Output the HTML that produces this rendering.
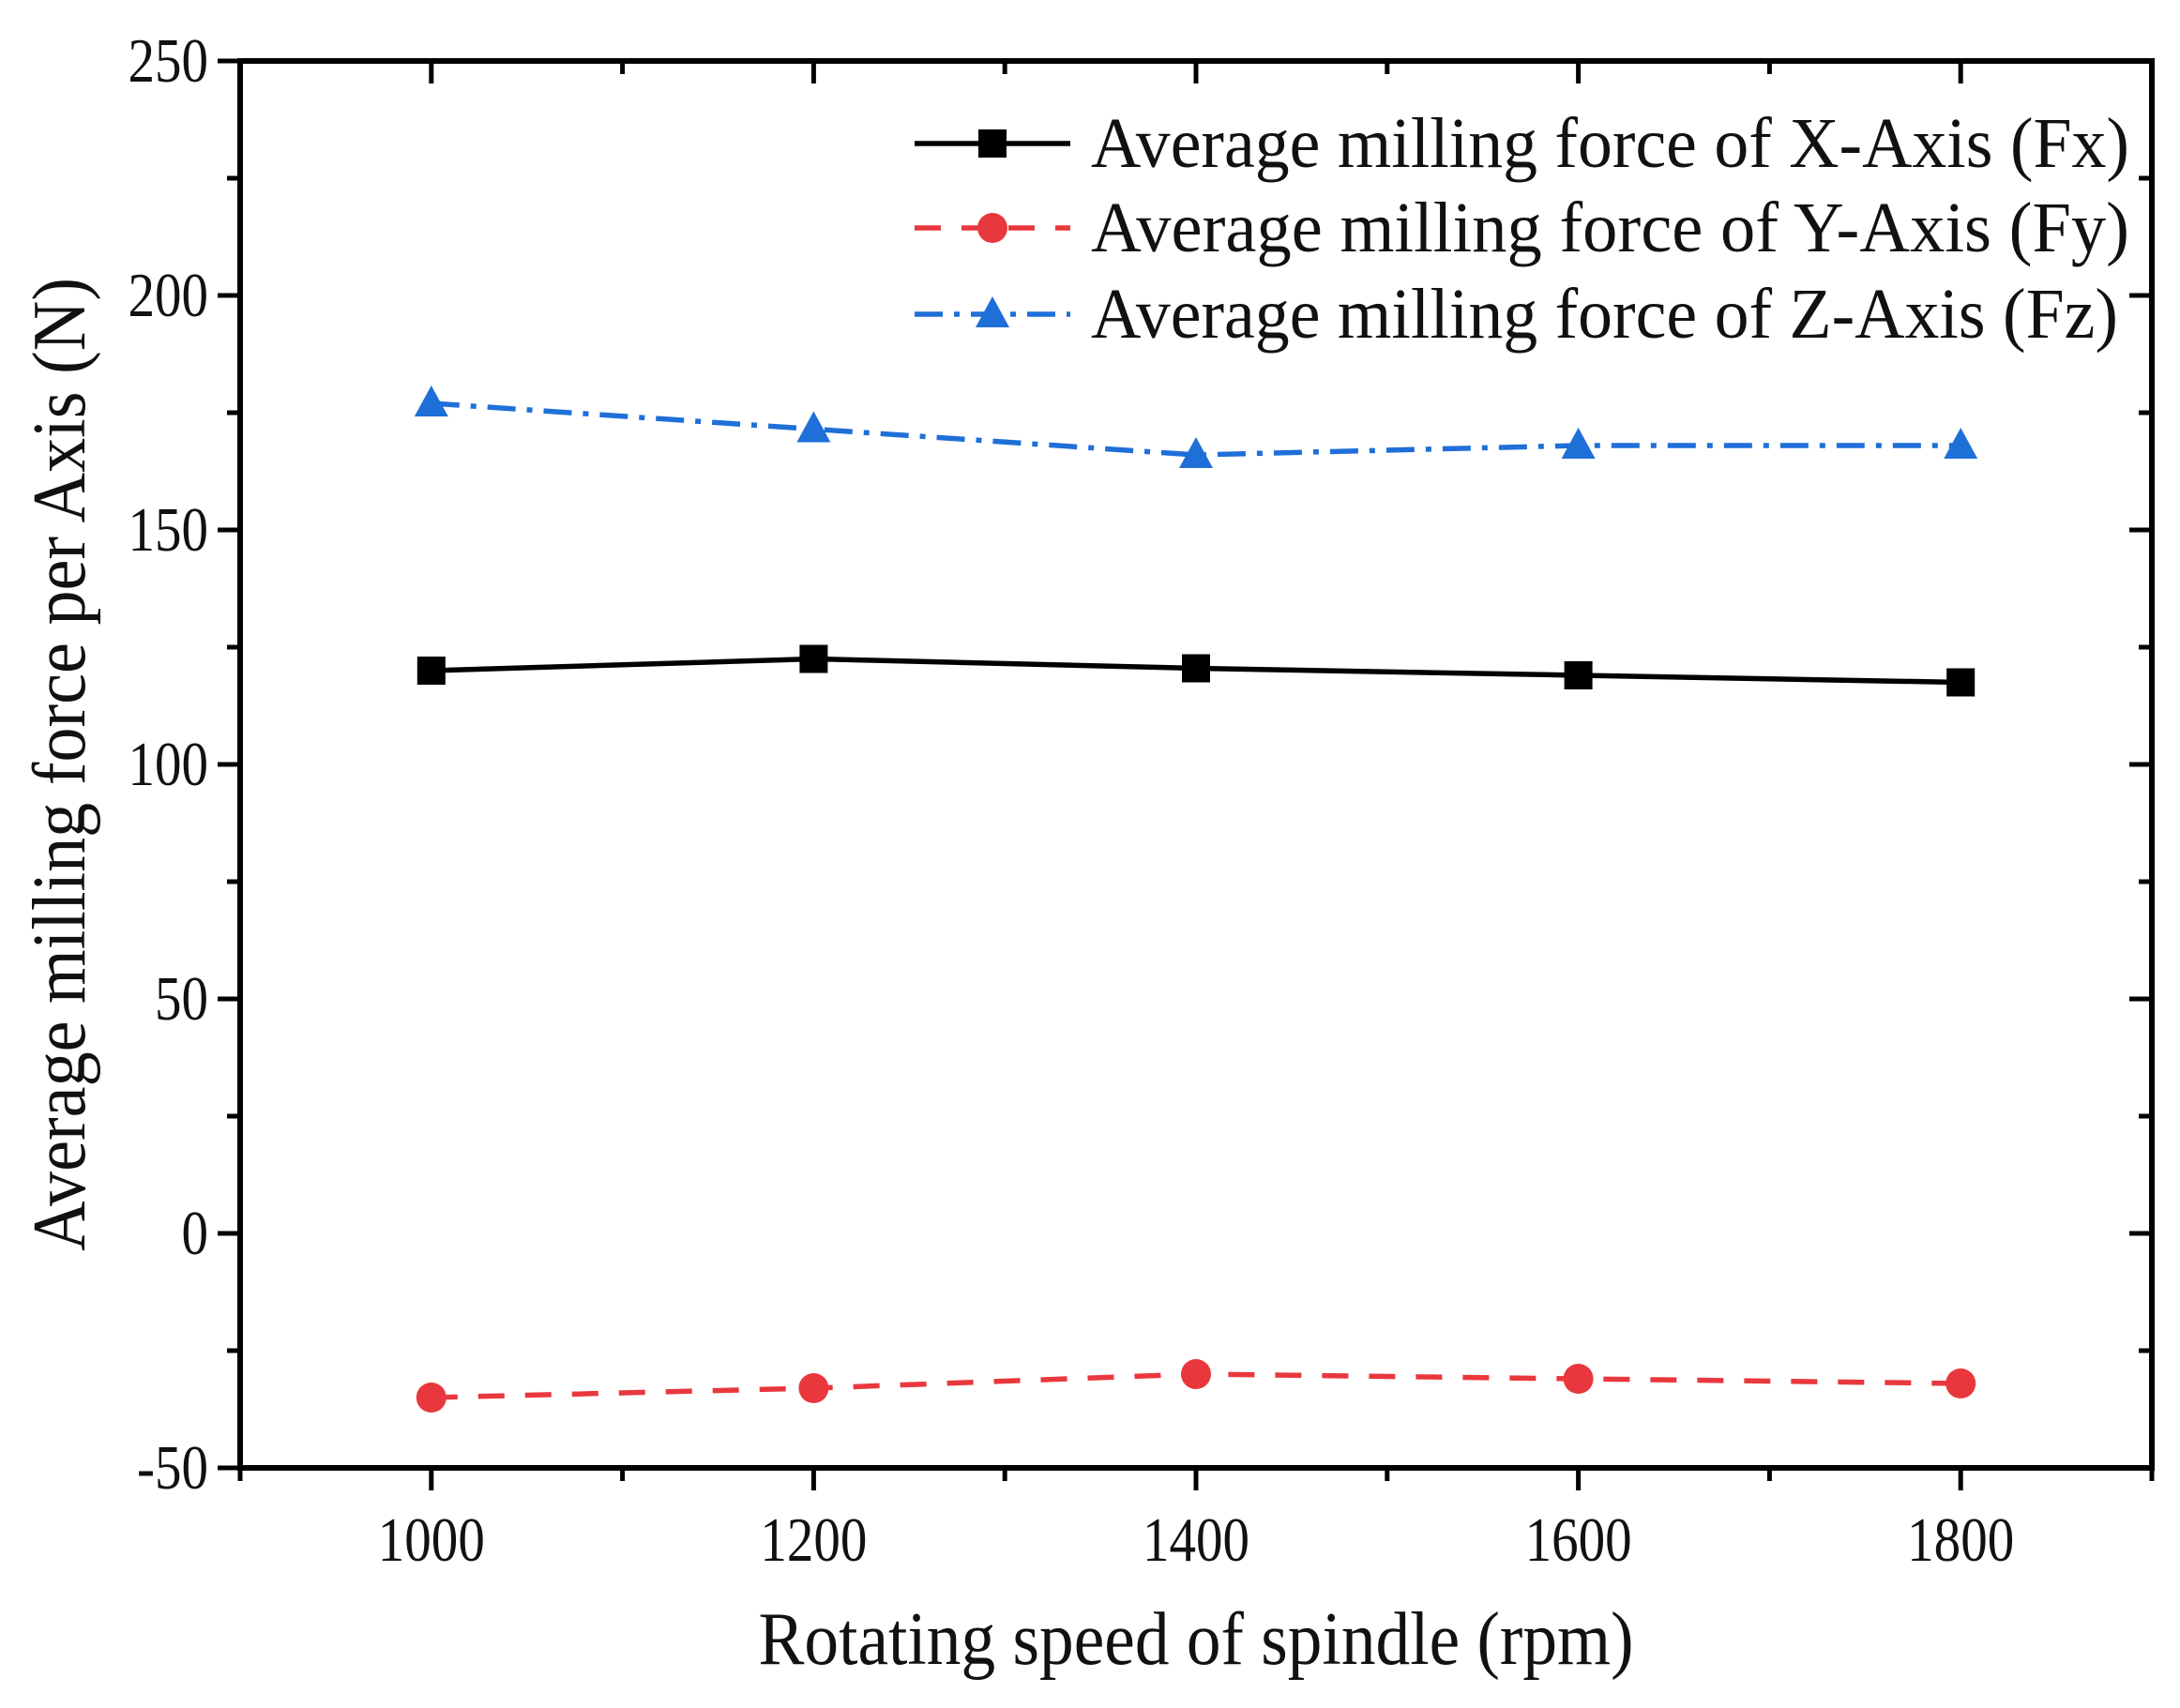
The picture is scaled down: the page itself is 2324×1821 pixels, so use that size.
<!DOCTYPE html>
<html><head><meta charset="utf-8"><style>
html,body{margin:0;padding:0;background:#fff}
svg text{font-family:"Liberation Serif",serif;fill:#111}
</style></head><body>
<svg id="chart" width="2324" height="1816" viewBox="0 0 2324 1816"></svg>
<script>
const xCats=[1000,1200,1400,1600,1800];
const fxVals=[120,122.5,120.5,119,117.5];
const fyVals=[-35,-33,-30,-31,-32];
const fzVals=[177,171.5,166,168,168];
const yTicks=[-50,0,50,100,150,200,250];
const xTicks=[1000,1200,1400,1600,1800];
const legendLabels=["Average milling force of X-Axis (Fx)","Average milling force of Y-Axis (Fy)","Average milling force of Z-Axis (Fz)"];

const NS="http://www.w3.org/2000/svg";
const svg=document.getElementById('chart');
const L=256,R=2294,T=65,B=1565;
const xMin=900,xMax=1900,yMin=-50,yMax=250;
const sx=v=>L+(v-xMin)/(xMax-xMin)*(R-L);
const sy=v=>B-(v-yMin)/(yMax-yMin)*(B-T);
function mk(tag,attrs,parent){const e=document.createElementNS(NS,tag);for(const k in attrs)e.setAttribute(k,attrs[k]);(parent||svg).appendChild(e);return e;}

const axG=mk('g',{});


for(let v=yMin;v<=yMax;v+=25){
  const major=(v%50===0);const len=major?24:14;const y=sy(v);
  mk('line',{x1:L-len,y1:y,x2:L,y2:y,stroke:'#000','stroke-width':5},axG);
  mk('line',{x1:R,y1:y,x2:R-len,y2:y,stroke:'#000','stroke-width':5},axG);
}
for(let v=xMin;v<=xMax;v+=100){
  const major=(v%200===0);const len=major?24:14;const x=sx(v);
  mk('line',{x1:x,y1:B,x2:x,y2:B+len,stroke:'#000','stroke-width':5},axG);
  mk('line',{x1:x,y1:T,x2:x,y2:T+len,stroke:'#000','stroke-width':5},axG);
}
mk('rect',{x:L,y:T,width:R-L,height:B-T,fill:'none',stroke:'#000','stroke-width':6},axG);

yTicks.forEach(v=>{
  const t=mk('text',{x:0,y:0,'font-size':62,'text-anchor':'end',transform:`translate(222,${sy(v)+22}) scale(0.92,1.08)`});
  
  
  t.textContent=v;
});
xTicks.forEach(v=>{
  const t=mk('text',{x:0,y:0,'font-size':62,'text-anchor':'middle',transform:`translate(${sx(v)},1664) scale(0.92,1.08)`});
  
  
  t.textContent=v;
});

const xt=mk('text',{x:0,y:0,'font-size':72,'text-anchor':'middle',textLength:933,lengthAdjust:'spacingAndGlyphs',transform:'translate(1275,1774) scale(1,1.12)'});


xt.textContent='Rotating speed of spindle (rpm)';
const yt=mk('text',{x:0,y:0,'font-size':72,'text-anchor':'middle',textLength:1038,lengthAdjust:'spacingAndGlyphs',transform:'translate(90,815) rotate(-90) scale(1,1.12)'});


yt.textContent='Average milling force per Axis (N)';

function marker(type,x,y,color,g){
  if(type==='sq')return mk('rect',{x:x-15,y:y-15,width:30,height:30,fill:color},g);
  if(type==='ci')return mk('circle',{cx:x,cy:y,r:16,fill:color},g);
  return mk('polygon',{points:`${x},${y-19} ${x-18},${y+14} ${x+18},${y+14}`,fill:color},g);
}
const series=[
 {vals:fxVals,color:'#000',dash:'',m:'sq',name:'series-fx'},
 {vals:fyVals,color:'#e8383d',dash:'28,22',m:'ci',name:'series-fy'},
 {vals:fzVals,color:'#1f6fd8',dash:'30,12,6,12',m:'tr',name:'series-fz'}
];
series.forEach((s,i)=>{
  const g=mk('g',{});
  
  
  const pts=xCats.map((c,j)=>sx(c)+','+sy(s.vals[j])).join(' ');
  mk('polyline',{points:pts,fill:'none',stroke:s.color,'stroke-width':5.5,'stroke-dasharray':s.dash},g);
  xCats.forEach((c,j)=>{
    const m=marker(s.m,sx(c),sy(s.vals[j]),s.color,g);
    
    
  });
  const ly=[153,243,335][i];
  const lg=mk('g',{});
  
  
  mk('line',{x1:975,y1:ly,x2:1141,y2:ly,stroke:s.color,'stroke-width':5.5,'stroke-dasharray':s.dash},lg);
  marker(s.m,1058,ly,s.color,lg);
  const t=mk('text',{x:0,y:0,'font-size':68,textLength:[1107,1107,1095][i],lengthAdjust:'spacingAndGlyphs',transform:`translate(1163,${ly+25}) scale(1,1.12)`},lg);
  t.textContent=legendLabels[i];
});
</script>
</body></html>
